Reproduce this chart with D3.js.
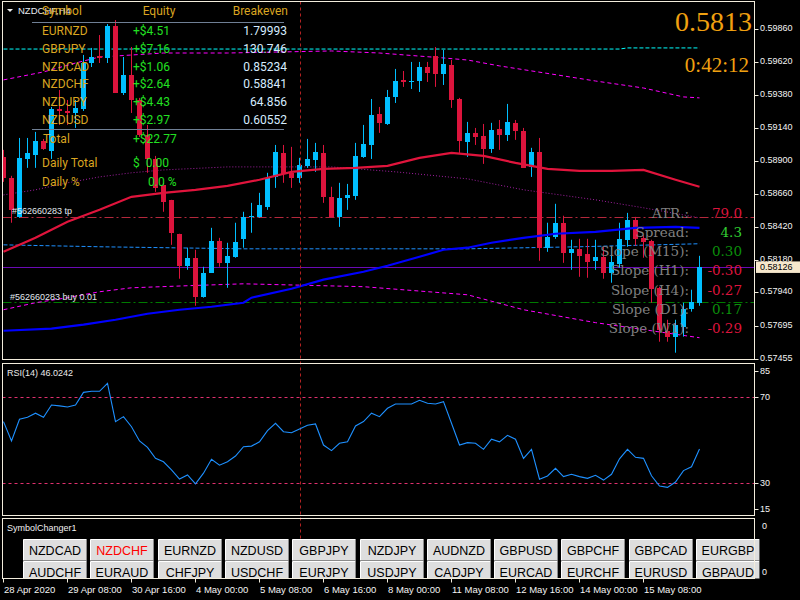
<!DOCTYPE html>
<html>
<head>
<meta charset="utf-8">
<script src="https://cdn.jsdelivr.net/npm/d3@7"></script>
<style>
  body { margin: 0; background: #000; }
  svg { display: block; }
</style>
</head>
<body>
<div id="chart"></div>
<script>
// NZDCHF H4 candles, oldest first
const opens = [0.58928, 0.58775, 0.58491, 0.58913, 0.58943, 0.59044, 0.58972, 0.59277, 0.59263, 0.59248,
  0.59277, 0.59612, 0.59663, 0.59649, 0.59882, 0.59394, 0.59525, 0.59343, 0.59088, 0.58913,
  0.58724, 0.58615, 0.58368, 0.58135, 0.58193, 0.57909, 0.58084, 0.58317, 0.58156, 0.58200,
  0.58331, 0.58491, 0.58491, 0.58564, 0.58782, 0.58957, 0.58812, 0.58775, 0.58863, 0.58906,
  0.58957, 0.58637, 0.58491, 0.58630, 0.58644, 0.58928, 0.59015, 0.59241, 0.59168, 0.59365,
  0.59489, 0.59474, 0.59481, 0.59583, 0.59663, 0.59532, 0.59598, 0.59350, 0.59037, 0.59103,
  0.59081, 0.58986, 0.59132, 0.59088, 0.59176, 0.59117, 0.58855, 0.58964, 0.58266, 0.58346,
  0.58448, 0.58229, 0.58258, 0.58222, 0.58171, 0.58200, 0.58084, 0.58149, 0.58324, 0.58469,
  0.58338, 0.58317, 0.57974, 0.57661, 0.57618, 0.57690, 0.57822, 0.57865];
const highs = [0.58979, 0.58790, 0.59066, 0.59066, 0.59110, 0.59059, 0.59292, 0.59416, 0.59343, 0.59343,
  0.59671, 0.59722, 0.59816, 0.59896, 0.59925, 0.59656, 0.59729, 0.59358, 0.59161, 0.58935,
  0.58739, 0.58615, 0.58368, 0.58266, 0.58251, 0.58127, 0.58411, 0.58338, 0.58302, 0.58448,
  0.58528, 0.58593, 0.58666, 0.58812, 0.59015, 0.59015, 0.59001, 0.58921, 0.59059, 0.59030,
  0.59015, 0.58710, 0.58739, 0.58731, 0.59030, 0.59161, 0.59350, 0.59292, 0.59416, 0.59569,
  0.59554, 0.59620, 0.59620, 0.59620, 0.59729, 0.59707, 0.59634, 0.59358, 0.59183, 0.59139,
  0.59168, 0.59176, 0.59197, 0.59314, 0.59197, 0.59139, 0.58994, 0.59066, 0.58448, 0.58586,
  0.58499, 0.58324, 0.58331, 0.58331, 0.58324, 0.58273, 0.58273, 0.58448, 0.58520, 0.58491,
  0.58360, 0.58324, 0.57982, 0.57741, 0.57741, 0.57865, 0.57960, 0.58207];
const lows = [0.58746, 0.58448, 0.58484, 0.58848, 0.58848, 0.58979, 0.58913, 0.59161, 0.59161, 0.59139,
  0.59263, 0.59583, 0.59612, 0.59612, 0.59394, 0.59379, 0.59248, 0.59074, 0.58812, 0.58673,
  0.58528, 0.58287, 0.58040, 0.58105, 0.57843, 0.57902, 0.58084, 0.58127, 0.57974, 0.58193,
  0.58266, 0.58375, 0.58484, 0.58542, 0.58702, 0.58739, 0.58702, 0.58739, 0.58848, 0.58819,
  0.58593, 0.58491, 0.58418, 0.58542, 0.58615, 0.58921, 0.58913, 0.59103, 0.59161, 0.59321,
  0.59438, 0.59423, 0.59401, 0.59474, 0.59438, 0.59452, 0.59285, 0.58957, 0.58928, 0.59015,
  0.58877, 0.58957, 0.58979, 0.59044, 0.59052, 0.58848, 0.58782, 0.58171, 0.58236, 0.58331,
  0.58156, 0.58105, 0.58054, 0.58047, 0.58105, 0.58040, 0.58011, 0.58120, 0.58273, 0.58280,
  0.58193, 0.57865, 0.57581, 0.57581, 0.57501, 0.57618, 0.57800, 0.57843];
const closes = [0.58775, 0.58542, 0.58921, 0.58957, 0.59044, 0.58986, 0.59277, 0.59263, 0.59248, 0.59285,
  0.59612, 0.59656, 0.59649, 0.59882, 0.59394, 0.59525, 0.59343, 0.59088, 0.58913, 0.58702,
  0.58600, 0.58375, 0.58135, 0.58193, 0.57909, 0.58084, 0.58317, 0.58156, 0.58207, 0.58309,
  0.58491, 0.58499, 0.58579, 0.58775, 0.58964, 0.58804, 0.58775, 0.58870, 0.58913, 0.58964,
  0.58637, 0.58491, 0.58630, 0.58651, 0.58935, 0.59023, 0.59234, 0.59176, 0.59365, 0.59481,
  0.59474, 0.59481, 0.59583, 0.59540, 0.59532, 0.59605, 0.59343, 0.59044, 0.59103, 0.59074,
  0.58986, 0.59125, 0.59088, 0.59183, 0.59117, 0.58848, 0.58964, 0.58266, 0.58346, 0.58448,
  0.58229, 0.58258, 0.58207, 0.58164, 0.58200, 0.58084, 0.58164, 0.58331, 0.58469, 0.58331,
  0.58309, 0.57967, 0.57669, 0.57618, 0.57705, 0.57822, 0.57872, 0.58126];

// RSI(14), one value per bar
const rsiValues = [58.7, 49.7, 59.8, 60.7, 62.6, 60.7, 66.4, 66.0, 65.5, 66.4,
  72.3, 72.8, 72.8, 76.5, 58.7, 61.0, 56.3, 49.7, 46.7, 41.6,
  40.0, 36.2, 32.0, 33.9, 29.7, 34.7, 41.2, 38.4, 40.0, 42.7,
  47.0, 47.3, 49.3, 54.5, 57.9, 54.0, 53.5, 55.3, 57.0, 57.6,
  47.8, 45.2, 48.6, 49.3, 56.7, 58.7, 62.6, 61.0, 64.9, 66.9,
  66.9, 66.9, 68.6, 67.2, 66.9, 68.0, 57.9, 47.8, 48.9, 48.6,
  45.8, 50.5, 49.3, 52.3, 50.5, 41.6, 45.8, 31.9, 33.4, 37.0,
  33.1, 34.2, 33.1, 32.3, 33.7, 31.5, 34.2, 41.4, 45.8, 42.1,
  41.6, 33.5, 28.7, 28.1, 30.6, 35.9, 37.7, 46.0];

// Moving averages, read at some bars
const redMaBars = [0, 4, 8, 12, 16, 20, 24, 28, 32, 36, 40, 44, 48, 52, 56, 60, 64, 68, 72, 76, 80, 84, 87];
const redMaValues = [0.58236, 0.58338, 0.58455, 0.58542, 0.58637, 0.58666, 0.58688, 0.58717, 0.58761, 0.58819,
  0.58841, 0.58848, 0.58863, 0.58921, 0.58957, 0.58935, 0.58884, 0.58841, 0.58826, 0.58826, 0.58833, 0.58761, 0.58710];
const blueMaBars = [0, 6, 10, 14, 18, 22, 26, 30, 31, 36, 40, 45, 48, 52, 55, 58, 61, 65, 69, 74, 79, 84, 87];
const blueMaValues = [0.57661, 0.57676, 0.57705, 0.57741, 0.57785, 0.57814, 0.57836, 0.57865, 0.57902, 0.57967,
  0.58033, 0.58091, 0.58135, 0.58200, 0.58251, 0.58266, 0.58302, 0.58338, 0.58368, 0.58382, 0.58411, 0.58418, 0.58411];

// Channel lines, read at some bars
const cyanBars = [0, 77, 78, 87];
const cyanValues = [0.59714, 0.59714, 0.59722, 0.59722];
const upperBars = [0, 5, 9, 12, 20, 28, 41, 47, 55, 58, 62, 70, 74, 80, 85, 87];
const upperValues = [0.59489, 0.59547, 0.59612, 0.59656, 0.59685, 0.59685, 0.59700, 0.59685, 0.59649, 0.59634,
  0.59591, 0.59518, 0.59481, 0.59430, 0.59365, 0.59358];
const middleBars = [0, 4, 8, 12, 16, 20, 28, 41, 49, 58, 65, 74, 80, 87];
const middleValues = [0.58651, 0.58688, 0.58739, 0.58782, 0.58812, 0.58833, 0.58855, 0.58855, 0.58819, 0.58768,
  0.58688, 0.58615, 0.58557, 0.58484];
const innerBars = [0, 12, 30, 58, 72, 87];
const innerValues = [0.58287, 0.58273, 0.58258, 0.58258, 0.58273, 0.58295];
const lowerBars = [0, 4, 8, 12, 16, 23, 30, 45, 58, 65, 74, 87];
const lowerValues = [0.57814, 0.57865, 0.57902, 0.57945, 0.57974, 0.57989, 0.58003, 0.57982, 0.57923, 0.57814,
  0.57720, 0.57610];

// Trade levels
const tpLevel = 0.58491;
const buyLevel = 0.57872;
const bidPrice = 0.58126;

// Axes
const priceTicks = [0.59860, 0.59620, 0.59380, 0.59140, 0.58900, 0.58660, 0.58420, 0.58180, 0.57940, 0.57695, 0.57455];
const timeBars = [0, 8, 16, 24, 32, 40, 48, 56, 64, 72, 80];
const timeLabels = ["28 Apr 2020", "29 Apr 08:00", "30 Apr 16:00", "4 May 00:00", "5 May 08:00", "6 May 16:00",
  "8 May 00:00", "11 May 08:00", "12 May 16:00", "14 May 00:00", "15 May 08:00"];
const rsiTicks = [85, 70, 30, 15];
const rsiLevels = [70, 30];

// Basket table
const tableSymbols = ["EURNZD", "GBPJPY", "NZDCAD", "NZDCHF", "NZDJPY", "NZDUSD"];
const tableEquity = ["+$4.51", "+$7.16", "+$1.06", "+$2.64", "+$4.43", "+$2.97"];
const tableBreakeven = ["1.79993", "130.746", "0.85234", "0.58841", "64.856", "0.60552"];

// Info panel
const infoLabels = ["ATR.:", "Spread:", "Slope (M15):", "Slope (H1):", "Slope (H4):", "Slope (D1):", "Slope (W1):"];
const infoValues = ["79.0", "4.3", "0.30", "-0.30", "-0.27", "0.17", "-0.29"];

// Symbol changer buttons
const buttonsRow1 = ["NZDCAD", "NZDCHF", "EURNZD", "NZDUSD", "GBPJPY", "NZDJPY", "AUDNZD", "GBPUSD", "GBPCHF", "GBPCAD", "EURGBP"];
const buttonsRow2 = ["AUDCHF", "EURAUD", "CHFJPY", "USDCHF", "EURJPY", "USDJPY", "CADJPY", "EURCAD", "EURCHF", "EURUSD", "GBPAUD"];

const width = 800;
const height = 600;
const frameColor = "#f2ecdc";
const bullColor = "#00bfff";
const bearColor = "#dc143c";

const svg = d3.select("#chart").append("svg")
  .attr("width", width)
  .attr("height", height)
  .style("font-family", "'Liberation Sans', Arial, sans-serif");

svg.append("rect").attr("width", width).attr("height", height).attr("fill", "#000");

// Panels
const mainPanel = { left: 2.5, right: 754.5, top: 1.5, bottom: 359.5 };
const rsiPanel = { left: 2.5, right: 754.5, top: 363.5, bottom: 515.5 };
const symPanel = { left: 2.5, right: 754.5, top: 518.5, bottom: 578.5 };

const x = d3.scaleLinear().domain([0, 87]).range([3.5, 699.5]);
const y = d3.scaleLinear().domain([0.57455, 0.59860]).range([359, 29]);
const yRsi = d3.scaleLinear().domain([30, 70]).range([483.3, 397.3]);

const defs = svg.append("defs");
addClip("clipMain", mainPanel, 0);
addClip("clipRsi", rsiPanel, 0);
addClip("clipSym", symPanel, 5);

const main = svg.append("g").attr("clip-path", "url(#clipMain)");

// Trade levels and bid line
drawLevel(main, tpLevel, "#b4283c", "9,3,2,3");
drawLevel(main, buyLevel, "#007a00", "9,3,2,3");
drawLevel(main, bidPrice, "#6a0ab4", null);

// Channel lines
drawSeries(main, cyanBars, cyanValues, "#00ffff", 1, "4,2");
drawSeries(main, upperBars, upperValues, "#ff00ff", 1, "4,3");
drawSeries(main, middleBars, middleValues, "#a01fa0", 1, "1,2");
drawSeries(main, innerBars, innerValues, "#1e90ff", 1, "4,2");
drawSeries(main, lowerBars, lowerValues, "#ff00ff", 1, "4,3");

// Candles
const candles = main.selectAll(".candle")
  .data(d3.range(opens.length))
  .enter()
  .append("g")
  .attr("class", "candle");

candles.append("line")
  .attr("x1", i => x(i))
  .attr("x2", i => x(i))
  .attr("y1", i => y(highs[i]))
  .attr("y2", i => y(lows[i]))
  .attr("stroke", i => closes[i] >= opens[i] ? bullColor : bearColor)
  .attr("stroke-width", 1);

candles.append("rect")
  .attr("x", i => x(i) - 2.5)
  .attr("width", 5)
  .attr("y", i => Math.round(y(Math.max(opens[i], closes[i]))))
  .attr("height", i => Math.max(1, Math.round(Math.abs(y(opens[i]) - y(closes[i])))))
  .attr("fill", i => closes[i] >= opens[i] ? bullColor : bearColor);

// Moving averages
drawSeries(main, blueMaBars, blueMaValues, "#0000ff", 2.2, null);
drawSeries(main, redMaBars, redMaValues, "#e0143c", 2.2, null);

// Trade labels
addText(main, 12, y(tpLevel) - 6, "#562660283 tp", 9, "#e2e8ee");
addText(main, 10, y(buyLevel) - 5, "#562660283 buy 0.01", 9, "#e2e8ee");

// Vertical dashed line across all panels
svg.append("line")
  .attr("x1", 300.5).attr("x2", 300.5)
  .attr("y1", mainPanel.top).attr("y2", symPanel.bottom)
  .attr("stroke", "#b22222")
  .attr("stroke-dasharray", "3,3");

// Basket table
const tableFont = "Roboto, sans-serif";
const gold = "#daa520";
const green = "#22e022";
svg.append("polygon").attr("points", "7,9 13,9 10,12").attr("fill", "#f0f0f0");
addText(svg, 18, 10.5, "NZDCHF,H4", 9.5, "#e6e9f0");
addText(svg, 42, 10.5, "Symbol", 12, gold).style("font-family", tableFont);
addText(svg, 159, 10.5, "Equity", 12, gold).style("font-family", tableFont).attr("text-anchor", "middle");
addText(svg, 288, 10.5, "Breakeven", 12, gold).style("font-family", tableFont).attr("text-anchor", "end");
svg.append("line").attr("x1", 32).attr("x2", 284).attr("y1", 22.5).attr("y2", 22.5).attr("stroke", "#6f7f95");
svg.append("line").attr("x1", 32).attr("x2", 284).attr("y1", 129.5).attr("y2", 129.5).attr("stroke", "#6f7f95");

tableSymbols.forEach(function (s, k) {
  const ty = 30.7 + k * 17.9;
  addText(svg, 42, ty, s, 12, gold).style("font-family", tableFont);
  addText(svg, 133, ty, tableEquity[k], 12, green).style("font-family", tableFont);
  addText(svg, 287, ty, tableBreakeven[k], 12, "#d6ecff").style("font-family", tableFont).attr("text-anchor", "end");
});
addText(svg, 43, 139.3, "Total", 12, gold).style("font-family", tableFont);
addText(svg, 133, 139.3, "+$22.77", 12, green).style("font-family", tableFont);
addText(svg, 42, 163.3, "Daily Total", 12, gold).style("font-family", tableFont);
addText(svg, 133, 163.3, "$  0.00", 12, green).style("font-family", tableFont);
addText(svg, 42, 181.7, "Daily %", 12, gold).style("font-family", tableFont);
addText(svg, 148, 181.7, "0.0 %", 12, green).style("font-family", tableFont);

// Price and countdown
addText(svg, 752, 21, "0.5813", 28, "#f0a010")
  .style("font-family", "'Liberation Serif', 'Times New Roman', serif")
  .attr("text-anchor", "end");
addText(svg, 749, 64.5, "0:42:12", 21, "#f0a010")
  .style("font-family", "'Liberation Serif', 'Times New Roman', serif")
  .attr("text-anchor", "end");

// Info panel
infoLabels.forEach(function (label, k) {
  const ty = 213.3 + k * 19.05;
  const v = infoValues[k];
  let color = v.startsWith("-") ? bearColor : "#0b8f0b";
  if (k === 0) color = bearColor;
  if (k === 1) color = "#32cd32";
  addText(svg, 689, ty, label, 13.5, "#808080")
    .style("font-family", "'DejaVu Serif', serif")
    .attr("text-anchor", "end");
  addText(svg, 742, ty, v, 13.5, color)
    .style("font-family", "'DejaVu Serif', serif")
    .attr("text-anchor", "end");
});

// Price axis
const priceAxis = svg.append("g");
priceTicks.forEach(function (p) {
  priceAxis.append("line")
    .attr("x1", mainPanel.right).attr("x2", mainPanel.right + 4)
    .attr("y1", Math.round(y(p)) + 0.5).attr("y2", Math.round(y(p)) + 0.5)
    .attr("stroke", frameColor);
  addText(priceAxis, 760, y(p) - 1, p.toFixed(5), 9, "#f4f4f4");
});
priceAxis.append("rect")
  .attr("x", 756).attr("y", y(bidPrice) - 5.5)
  .attr("width", 44).attr("height", 11.5)
  .attr("fill", "#f6e8cc");
addText(priceAxis, 760, y(bidPrice) + 0.5, bidPrice.toFixed(5), 9, "#000");

// RSI panel
const rsiG = svg.append("g").attr("clip-path", "url(#clipRsi)");
rsiLevels.forEach(function (lv) {
  rsiG.append("line")
    .attr("x1", rsiPanel.left).attr("x2", rsiPanel.right)
    .attr("y1", Math.round(yRsi(lv)) + 0.5).attr("y2", Math.round(yRsi(lv)) + 0.5)
    .attr("stroke", "#e0306e")
    .attr("stroke-dasharray", "3,3");
});
rsiG.append("path")
  .datum(rsiValues)
  .attr("d", d3.line().x((d, i) => x(i)).y(d => yRsi(d)))
  .attr("fill", "none")
  .attr("stroke", "#1e90ff")
  .attr("stroke-width", 1.1);
addText(svg, 7, 372.7, "RSI(14) 46.0242", 9, "#eaeaea");
rsiTicks.forEach(function (t) {
  const ty = Math.min(Math.max(yRsi(t), rsiPanel.top + 7), rsiPanel.bottom - 6.5);
  svg.append("line")
    .attr("x1", rsiPanel.right).attr("x2", rsiPanel.right + 4)
    .attr("y1", Math.round(ty) + 0.5).attr("y2", Math.round(ty) + 0.5)
    .attr("stroke", frameColor);
  addText(svg, 760, ty, String(t), 9, "#f4f4f4");
});

// Symbol changer panel
addText(svg, 7, 528, "SymbolChanger1", 9, "#f0f0f0");
addText(svg, 762, 526, "0", 9, "#f4f4f4");
addText(svg, 762, 572, "0", 9, "#f4f4f4");
const symG = svg.append("g").attr("clip-path", "url(#clipSym)");
drawButtons(symG, buttonsRow1, 539.5);
drawButtons(symG, buttonsRow2, 561.5);

// Panel frames
[mainPanel, rsiPanel, symPanel].forEach(function (p) {
  svg.append("rect")
    .attr("x", p.left).attr("y", p.top)
    .attr("width", p.right - p.left).attr("height", p.bottom - p.top)
    .attr("fill", "none")
    .attr("stroke", frameColor);
});

// Time axis
timeBars.forEach(function (b, k) {
  const tx = x(b);
  svg.append("line")
    .attr("x1", tx).attr("x2", tx)
    .attr("y1", symPanel.bottom).attr("y2", symPanel.bottom + 4)
    .attr("stroke", frameColor);
  addText(svg, tx + 0.5, 589, timeLabels[k], 9.5, "#f4f4f4");
});

function addClip(id, p, extraRight) {
  defs.append("clipPath").attr("id", id)
    .append("rect")
    .attr("x", p.left).attr("y", p.top)
    .attr("width", p.right - p.left + extraRight).attr("height", p.bottom - p.top);
}

function addText(parent, tx, ty, text, size, color) {
  return parent.append("text")
    .attr("x", tx)
    .attr("y", ty)
    .attr("dominant-baseline", "central")
    .attr("xml:space", "preserve")
    .style("white-space", "pre")
    .style("font-size", size + "px")
    .attr("fill", color)
    .text(text);
}

function drawLevel(parent, price, color, dash) {
  const ly = Math.round(y(price)) + 0.5;
  parent.append("line")
    .attr("x1", mainPanel.left).attr("x2", mainPanel.right)
    .attr("y1", ly).attr("y2", ly)
    .attr("stroke", color)
    .attr("stroke-dasharray", dash);
}

function drawSeries(parent, bars, values, color, strokeWidth, dash) {
  parent.append("path")
    .datum(bars.map((b, k) => [b, values[k]]))
    .attr("d", d3.line().x(d => x(d[0])).y(d => y(d[1])))
    .attr("fill", "none")
    .attr("stroke", color)
    .attr("stroke-width", strokeWidth)
    .attr("stroke-dasharray", dash);
}

function drawButtons(parent, names, top) {
  const bx = d3.scaleLinear().domain([0, 10]).range([23, 696]);
  names.forEach(function (name, k) {
    const left = Math.round(bx(k)) + 0.5;
    const b = parent.append("g");
    b.append("rect")
      .attr("x", left).attr("y", top)
      .attr("width", 63).attr("height", 21)
      .attr("fill", "#dedede");
    b.append("path")
      .attr("d", "M" + left + "," + (top + 21) + "V" + top + "H" + (left + 63))
      .attr("fill", "none").attr("stroke", "#ffffff");
    b.append("path")
      .attr("d", "M" + (left + 63) + "," + top + "V" + (top + 21) + "H" + left)
      .attr("fill", "none").attr("stroke", "#8a8a8a");
    addText(b, left + 31.5, top + 11, name, 12.5, name === "NZDCHF" ? "#ff0000" : "#000")
      .attr("text-anchor", "middle");
  });
}
</script>
</body>
</html>
